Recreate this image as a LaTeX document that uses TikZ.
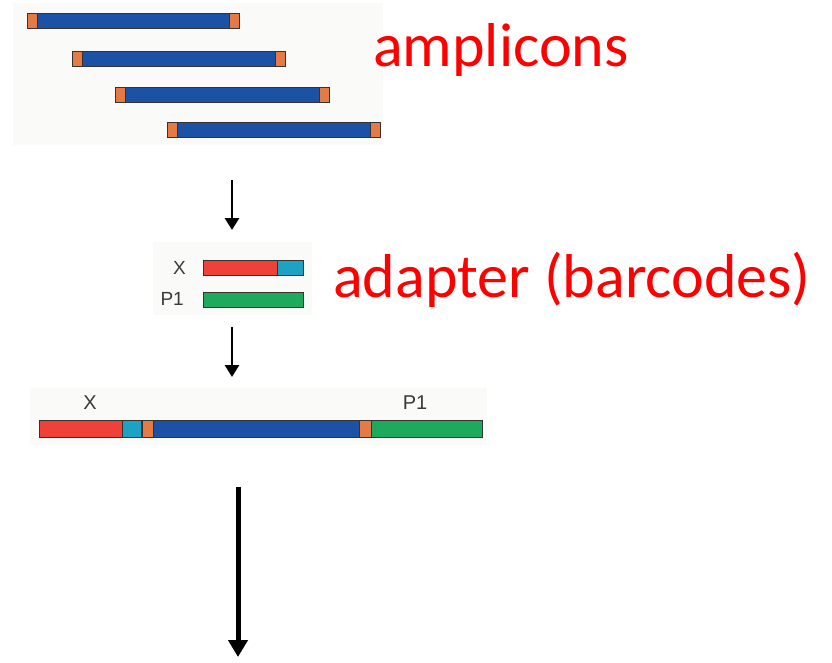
\documentclass[tikz,border=0pt]{standalone}
\usepackage{fontspec}
\newfontfamily\calib{Carlito}
\newfontfamily\lab{Liberation Sans}
\usetikzlibrary{arrows.meta}
\definecolor{dnablue}{HTML}{1B52A6}
\definecolor{capor}{HTML}{E57A45}
\definecolor{adred}{HTML}{EE4137}
\definecolor{adteal}{HTML}{1CA3C4}
\definecolor{adgreen}{HTML}{1DAA5C}
\definecolor{panelbg}{HTML}{FAFAF9}
\definecolor{labgray}{HTML}{3A3A3A}
\tikzset{
  panel/.style={fill=panelbg, draw=none},
  seg/.style={draw=black!80, line width=0.6pt},
  redlabel/.style={text=red, font=\calib\fontsize{62}{62}\selectfont, anchor=base west, inner sep=0pt},
  smalllab/.style={text=labgray, font=\lab\fontsize{19}{19}\selectfont, inner sep=0pt},
  thinarrow/.style={line width=2.8pt, -{Triangle[width=14pt,length=12pt]}},
  thickarrow/.style={line width=5pt, -{Triangle[width=19pt,length=17pt]}},
}
\newcommand{\amplicon}[3]{% x-left, x-right, y-top
  \fill[dnablue] (#1,#3) rectangle (#2,#3+15);
  \draw[seg] (#1,#3) rectangle (#2,#3+15);
  \filldraw[fill=capor, seg] (#1,#3) rectangle (#1+10,#3+15);
  \filldraw[fill=capor, seg] (#2-10,#3) rectangle (#2,#3+15);
}
\begin{document}
\begin{tikzpicture}[x=1pt,y=-1pt]
\useasboundingbox (0,0) rectangle (832,663);
% panels
\fill[panel] (13,3) rectangle (383,145);
\fill[panel] (153,242) rectangle (312,315);
\fill[panel] (30,388) rectangle (487,445);
% amplicons
\amplicon{27}{239}{13}
\amplicon{72}{285}{51}
\amplicon{115}{329}{87}
\amplicon{167}{380}{122}
\node[redlabel] (amp) at (373,67) {amplicons};
% arrow 1
\coordinate (a1s) at (232,180);
\coordinate (a1e) at (232,230);
\draw[thinarrow] (a1s) -- (a1e);
% adapters
\filldraw[fill=adred, seg] (203,260) rectangle (277,275);
\filldraw[fill=adteal, seg] (277,260) rectangle (303,275);
\filldraw[fill=adgreen, seg] (203,292) rectangle (303,307);
\node[smalllab, anchor=east] (xl) at (186,268) {X};
\node[smalllab, anchor=east] (pl) at (184,299) {P1};
\node[redlabel] (adp) at (333,297) {adapter (barcodes)};
% arrow 2
\coordinate (a2s) at (232,327);
\coordinate (a2e) at (232,377);
\draw[thinarrow] (a2s) -- (a2e);
% product
\filldraw[fill=adred, seg] (39,420) rectangle (122,437);
\filldraw[fill=adteal, seg] (122,420) rectangle (141,437);
\filldraw[fill=capor, seg] (142,420) rectangle (153,437);
\filldraw[fill=dnablue, seg] (153,420) rectangle (359,437);
\filldraw[fill=capor, seg] (359,420) rectangle (371,437);
\filldraw[fill=adgreen, seg] (371,420) rectangle (482,437);
\node[smalllab, font=\lab\fontsize{20}{20}\selectfont] (px) at (90,403) {X};
\node[smalllab, font=\lab\fontsize{20}{20}\selectfont] (pp) at (415,403) {P1};
% arrow 3
\coordinate (a3s) at (238,487);
\coordinate (a3e) at (238,657);
\draw[thickarrow] (a3s) -- (a3e);
\end{tikzpicture}
\end{document}
